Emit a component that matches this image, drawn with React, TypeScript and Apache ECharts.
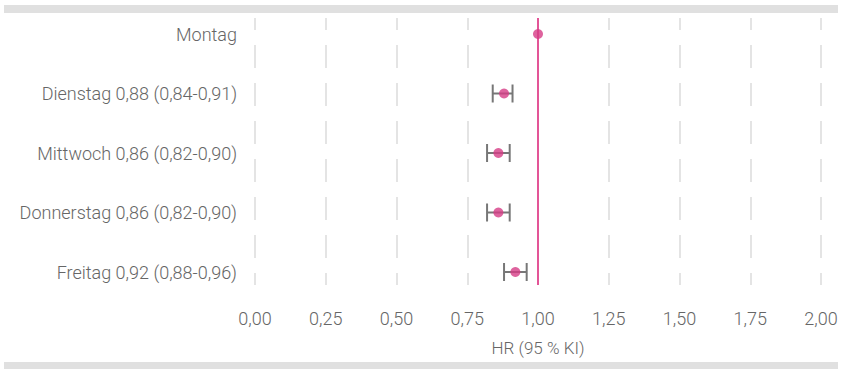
import React, { useEffect, useRef } from "react";
import * as echarts from "echarts";

const categories = [
  "Montag",
  "Dienstag 0,88 (0,84-0,91)",
  "Mittwoch 0,86 (0,82-0,90)",
  "Donnerstag 0,86 (0,82-0,90)",
  "Freitag 0,92 (0,88-0,96)",
];
const hr = [1.0, 0.88, 0.86, 0.86, 0.92];
const ciLow: (number | null)[] = [null, 0.84, 0.82, 0.82, 0.88];
const ciHigh: (number | null)[] = [null, 0.91, 0.90, 0.90, 0.96];
const referenceValue = 1.0;
const xMin = 0;
const xMax = 2;
const xStep = 0.25;
const axisTitle = "HR (95 % KI)";

const FONT = "Roboto";

export default function App() {
  const ref = useRef<HTMLDivElement>(null);
  useEffect(() => {
    if (!ref.current) return;
    const chart = echarts.init(ref.current, undefined, { renderer: "svg" });
    const ciData = categories
      .map((_, i) => [i, ciLow[i], ciHigh[i]])
      .filter((d) => d[1] != null);
    const fmt = (v: number) => v.toFixed(2).replace(".", ",");
    chart.setOption({
      animation: false,
      textStyle: { fontFamily: FONT },
      graphic: [
        { type: "rect", shape: { x: 4, y: 5, width: 834, height: 8 }, style: { fill: "#e0e0e0" } },
        { type: "rect", shape: { x: 4, y: 362, width: 834, height: 8 }, style: { fill: "#e0e0e0" } },
      ],
      grid: [
        { left: 255, right: 21, top: 4.25, bottom: 67.25 },
        { left: 255, right: 21, top: 18, bottom: 84 },
      ],
      xAxis: [
        {
          gridIndex: 0,
          type: "value",
          min: xMin,
          max: xMax,
          interval: xStep,
          axisLine: { show: false },
          axisTick: { show: false },
          splitLine: { show: false },
          axisLabel: {
            formatter: fmt,
            fontSize: 18,
            fontWeight: 300,
            color: "#666",
            margin: 8,
            fontFamily: FONT,
          },
          name: axisTitle,
          nameLocation: "middle",
          nameGap: 38,
          nameTextStyle: { fontSize: 17, fontWeight: 300, color: "#666", fontFamily: FONT },
        },
        {
          gridIndex: 1,
          type: "value",
          min: xMin,
          max: xMax,
          interval: xStep,
          axisLine: { show: false },
          axisTick: { show: false },
          axisLabel: { show: false },
          splitLine: {
            show: true,
            lineStyle: { color: "#dcdcdc", width: 1.5, type: [23, 15], dashOffset: 11 },
          },
        },
      ],
      yAxis: [
        {
          gridIndex: 0,
          type: "category",
          data: categories,
          inverse: true,
          axisLine: { show: false },
          axisTick: { show: false },
          splitLine: { show: false },
          axisLabel: {
            fontSize: 18,
            fontWeight: 300,
            color: "#666",
            margin: 18,
            fontFamily: FONT,
          },
        },
        {
          gridIndex: 1,
          type: "value",
          min: 0,
          max: 1,
          show: false,
        },
      ],
      series: [
        {
          type: "line",
          xAxisIndex: 1,
          yAxisIndex: 1,
          data: [],
          silent: true,
          markLine: {
            symbol: "none",
            silent: true,
            label: { show: false },
            lineStyle: { color: "#e35597", width: 2, type: "solid" },
            data: [{ xAxis: referenceValue }],
          },
        },
        {
          type: "custom",
          xAxisIndex: 0,
          yAxisIndex: 0,
          data: ciData,
          renderItem: (params: any, api: any) => {
            const idx = api.value(0);
            const lo = api.coord([api.value(1), idx]);
            const hi = api.coord([api.value(2), idx]);
            const h = 9;
            const style = { stroke: "#777", lineWidth: 2 };
            return {
              type: "group",
              children: [
                { type: "line", shape: { x1: lo[0], y1: lo[1], x2: hi[0], y2: hi[1] }, style },
                { type: "line", shape: { x1: lo[0], y1: lo[1] - h, x2: lo[0], y2: lo[1] + h }, style },
                { type: "line", shape: { x1: hi[0], y1: hi[1] - h, x2: hi[0], y2: hi[1] + h }, style },
              ],
            };
          },
          encode: { x: [1, 2], y: 0 },
          z: 3,
        },
        {
          type: "scatter",
          xAxisIndex: 0,
          yAxisIndex: 0,
          symbol: "circle",
          symbolSize: 10,
          itemStyle: { color: "#d63c86" },
          data: hr.map((v, i) => [v, i]),
          z: 5,
        },
      ],
    });
    return () => chart.dispose();
  }, []);
  return (
    <div
      ref={ref}
      style={{ position: "absolute", left: 0, top: 0, width: 842, height: 369, background: "#fff" }}
    />
  );
}
